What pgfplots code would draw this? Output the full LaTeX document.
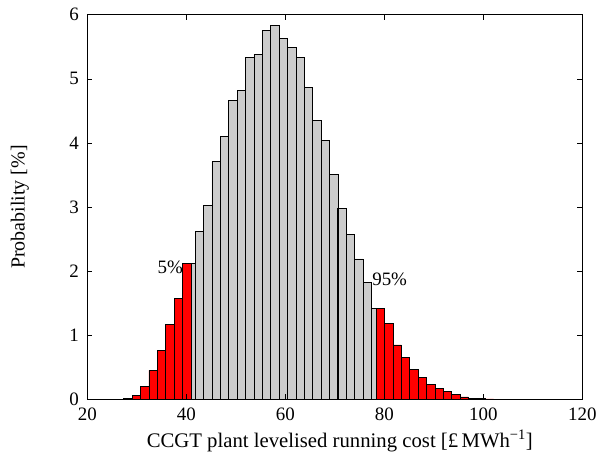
\documentclass[border=0pt]{standalone}
\usepackage{pgfplots}
\pgfplotsset{compat=1.18}
\usepackage{fontspec}
\setmainfont{Liberation Serif}

\definecolor{bargray}{rgb}{0.8,0.8,0.8}
\definecolor{tailred}{rgb}{1,0,0}

\begin{document}
\begin{tikzpicture}
\begin{axis}[
  name=ax,
  at={(0,0)}, anchor=south west,
  scale only axis,
  width=495bp, height=384.6bp,
  xmin=20, xmax=120, ymin=0, ymax=6,
  xtick={20,40,...,120}, ytick={0,1,...,6},
  tick align=inside, tick pos=both,
  major tick length=5bp,
  axis line style={black, line width=0.8bp},
  every tick/.style={black, line width=0.6bp},
  axis on top,
  /pgf/number format/assume math mode=true,
  tick label style={font=\fontsize{19}{22}\selectfont},
  xticklabel style={yshift=-5bp},
  yticklabel style={xshift=-5bp},
  xlabel={CCGT plant levelised running cost [£\,MWh\textsuperscript{\char"2212 1}]},
  ylabel={Probability [\%]},
  xlabel style={font=\fontsize{20.8}{24}\selectfont, at={(axis description cs:0.51,-0.124)}, anchor=base},
  ylabel style={font=\fontsize{20}{24}\selectfont, at={(axis description cs:-0.136,0.5)}, anchor=center},
]
% central part of the distribution
\addplot[ybar, bar width=1.695, bar shift=0pt, fill=bargray, draw=black, line width=0.6bp]
coordinates {
 (40.93,2.12) (42.63,2.62) (44.32,3.03) (46.02,3.71) (47.71,4.10)
 (49.41,4.66) (51.10,4.82) (52.80,5.33) (54.49,5.38) (56.19,5.76)
 (57.88,5.83) (59.58,5.63) (61.27,5.49) (62.97,5.34) (64.66,4.87)
 (66.36,4.35) (68.05,4.04) (69.75,3.51) (71.44,2.98) (73.14,2.57)
 (74.83,2.19) (76.53,1.82) (78.22,1.42)
};
% lower tail (below 5%)
\addplot[ybar, bar width=1.695, bar shift=0pt, fill=tailred, draw=black, line width=0.6bp]
coordinates {
 (28.19,0.02) (29.89,0.068) (31.58,0.198) (33.28,0.452) (34.97,0.764)
 (36.67,1.175) (38.36,1.58) (40.06,2.12)
};
% upper tail (above 95%)
\addplot[ybar, bar width=1.695, bar shift=0pt, fill=tailred, draw=black, line width=0.6bp]
coordinates {
 (79.18,1.42) (80.88,1.19) (82.57,0.85) (84.27,0.65) (85.96,0.47)
 (87.66,0.34) (89.35,0.23) (91.05,0.17) (92.74,0.12) (94.44,0.08)
 (96.13,0.04) (97.83,0.02) (99.52,0.012) (101.22,0.006) (102.91,0.003)
};
\node[anchor=east, inner sep=0pt, font=\fontsize{19}{22}\selectfont] at (axis cs:39.35,2.06) {5\%};
\node[anchor=west, inner sep=0pt, font=\fontsize{19}{22}\selectfont] at (axis cs:77.52,1.88) {95\%};
\end{axis}
\pgfresetboundingbox
\path[use as bounding box] ([xshift=-87.3bp,yshift=-59.7bp]ax.south west) rectangle ([xshift=15.6bp,yshift=14.7bp]ax.north east);
\end{tikzpicture}
\end{document}
